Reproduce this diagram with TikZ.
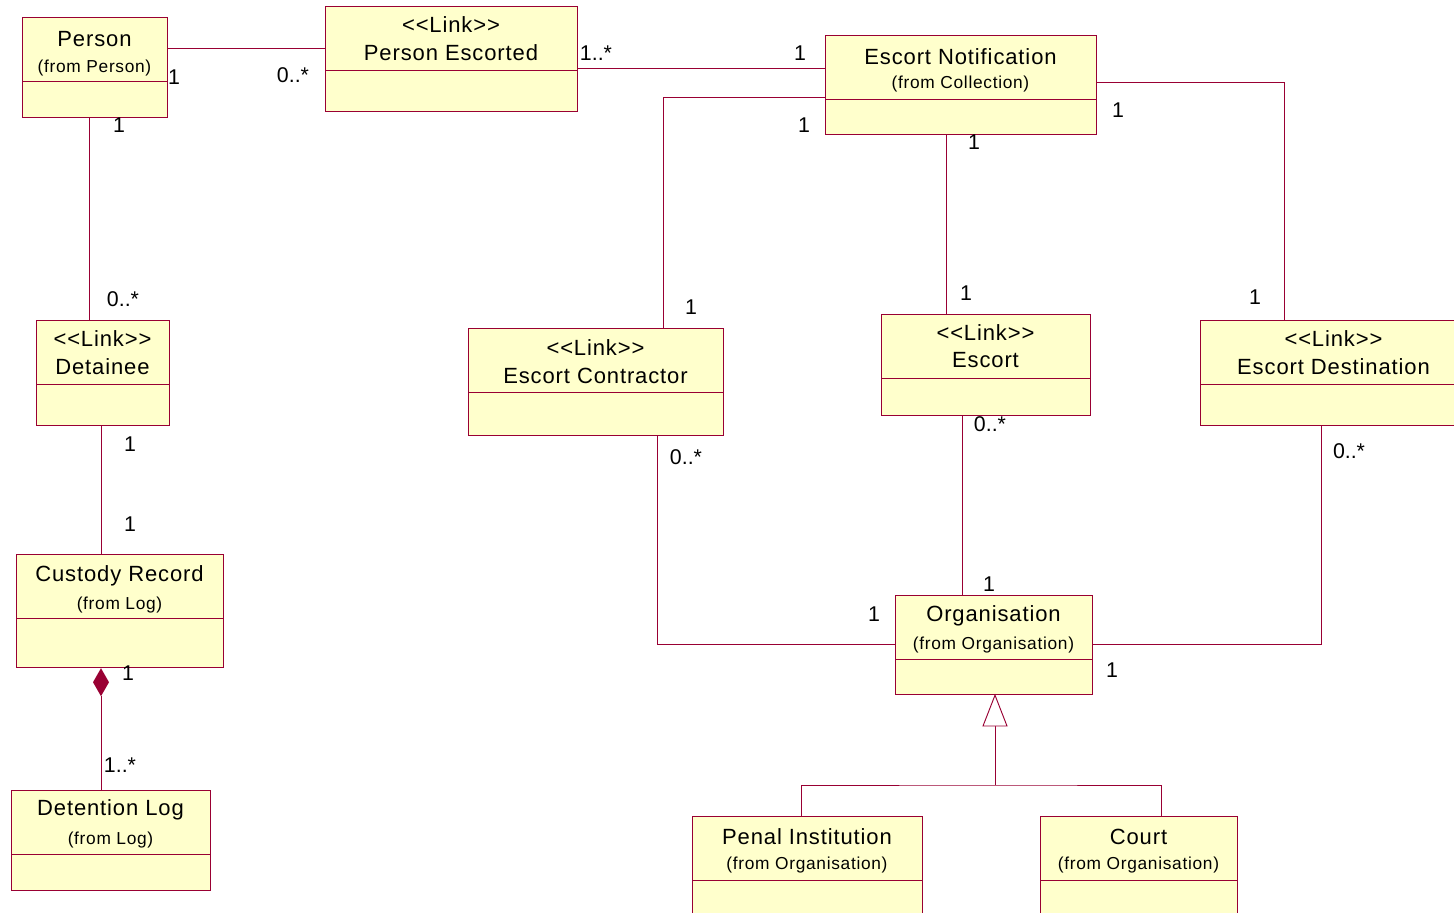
\documentclass[tikz,border=0pt]{standalone}
\usepackage{fontspec}
\setmainfont{Liberation Sans}
\newfontfamily\spacedfont[LetterSpace=4]{Liberation Sans}
\definecolor{umlred}{HTML}{990033}
\definecolor{umlfill}{HTML}{FFFFCC}
\tikzset{
  x=0.75pt, y=-0.75pt,
  cls/.style={draw=umlred, fill=umlfill, line width=0.9pt, rectangle, inner sep=0pt},
  conn/.style={draw=umlred, line width=0.7pt},
  bigtxt/.style={font=\spacedfont\fontsize{16.5}{18}\selectfont, inner sep=0pt},
  smalltxt/.style={font=\spacedfont\fontsize{13}{14}\selectfont, inner sep=0pt},
  mult/.style={font=\fontsize{16}{18}\selectfont, inner sep=0pt},
}
% #1 name, #2 x1, #3 y1, #4 x2, #5 y2, #6 line1, #7 line2, #8 gap to line2, #9 offset of line1
\newcommand\umlbox[9]{%
  \node[cls, minimum width={(#4-#2)*0.75pt}, minimum height={(#5-#3)*0.75pt}, anchor=north west] (#1) at (#2,#3) {};
  \draw[conn] (#2,#3+64.5) -- (#4,#3+64.5);
  \node[bigtxt] (#1-l1) at ({(#2+#4)/2},#3+#9) {#6};
  \ifnum#8=0
    \node[bigtxt] (#1-l2) at ({(#2+#4)/2},#3+#9+28) {#7};
  \else
    \node[smalltxt] (#1-l2) at ({(#2+#4)/2},#3+#9+#8) {#7};
  \fi
}
\begin{document}
\begin{tikzpicture}
\useasboundingbox (0,0) rectangle (1454,913);
\clip (0,0) rectangle (1454,913);
\fill[white] (0,0) rectangle (1454,913);

% classes
\umlbox{person}{22}{17}{167}{117}{Person}{(from Person)}{29}{22.5}
\umlbox{pesc}{325}{6}{577}{111}{<{}<Link>{}>}{Person Escorted}{0}{18.5}
\umlbox{enot}{825}{35}{1096}{134}{Escort Notification}{(from Collection)}{28}{21.5}
\umlbox{detainee}{36}{320}{169}{425}{<{}<Link>{}>}{Detainee}{0}{18.5}
\umlbox{econ}{468}{328}{723}{435}{<{}<Link>{}>}{Escort Contractor}{0}{20}
\umlbox{escort}{881}{314}{1090}{415}{<{}<Link>{}>}{Escort}{0}{18.5}
\umlbox{edest}{1200}{320}{1467}{425}{<{}<Link>{}>}{Escort Destination}{0}{18.5}
\umlbox{custody}{16}{554}{223}{667}{Custody Record}{(from Log)}{29}{22}
\umlbox{detlog}{11}{790}{210}{890}{Detention Log}{(from Log)}{30}{20}
\umlbox{org}{895}{595}{1092}{694}{Organisation}{(from Organisation)}{29}{21}
\umlbox{penal}{692}{816}{922}{940}{Penal Institution}{(from Organisation)}{28}{21}
\umlbox{court}{1040}{816}{1237}{940}{Court}{(from Organisation)}{28}{21}

% associations
\draw[conn] (person.east |- 0,48) -- (pesc.west |- 0,48);
\draw[conn] (pesc.east |- 0,68) -- (enot.west |- 0,68);
\draw[conn] (enot.west |- 0,97) -| (econ.north -| 663,0);
\draw[conn] (enot.south -| 946,0) -- (escort.north -| 946,0);
\draw[conn] (enot.east |- 0,82) -| (edest.north -| 1284,0);
\draw[conn] (person.south -| 89,0) -- (detainee.north -| 89,0);
\draw[conn] (detainee.south -| 101,0) -- (custody.north -| 101,0);
\draw[conn] (econ.south -| 657,0) |- (org.west |- 0,644);
\draw[conn] (escort.south -| 962,0) -- (org.north -| 962,0);
\draw[conn] (edest.south -| 1321,0) |- (org.east |- 0,644);

% composition
\coordinate (dtop) at (custody.south -| 101,0);
\draw[conn] (dtop) ++(0,28) coordinate (dbot) -- (detlog.north -| 101,0);
\fill[umlred] (dtop) -- ++(8,14) -- (dbot) -- ++(-8,-14) -- cycle;

% generalisation
\coordinate (gtop) at (org.south -| 995,0);
\coordinate (gbot) at (995,726);
\coordinate (gbar) at (995,785);
\draw[conn] (gbot) -- (gbar);
\draw[conn] (penal.north -| 801,0) |- (gbar) -| (court.north -| 1161,0);
\draw[conn, fill=white] (gtop) -- (983,726) -- (1007,726) -- cycle;

% multiplicities
\node[mult] at (174,77) {1};
\node[mult] at (293,75) {0..*};
\node[mult] at (596,53) {1..*};
\node[mult] at (800,53) {1};
\node[mult] at (804,125) {1};
\node[mult] at (691,307) {1};
\node[mult] at (974,142) {1};
\node[mult] at (966,293) {1};
\node[mult] at (1118,110) {1};
\node[mult] at (1255,297) {1};
\node[mult] at (119,125) {1};
\node[mult] at (123,299) {0..*};
\node[mult] at (130,444) {1};
\node[mult] at (130,524) {1};
\node[mult] at (128,673) {1};
\node[mult] at (120,765) {1..*};
\node[mult] at (686,457) {0..*};
\node[mult] at (874,614) {1};
\node[mult] at (990,424) {0..*};
\node[mult] at (989,584) {1};
\node[mult] at (1349,451) {0..*};
\node[mult] at (1112,670) {1};
\end{tikzpicture}
\end{document}
